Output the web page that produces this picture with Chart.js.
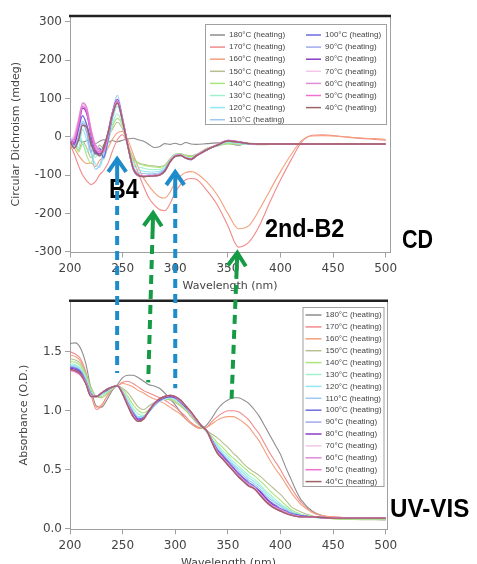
<!DOCTYPE html>
<html>
<head>
  <meta charset="utf-8">
  <title>CD / UV-VIS heating series</title>
  <script src="https://cdn.jsdelivr.net/npm/chart.js@4.4.1/dist/chart.umd.min.js"></script>
  <style>
    html, body { margin: 0; padding: 0; background: #fff; }
    #wrap { position: relative; width: 477px; height: 564px; overflow: hidden; }
    canvas { position: absolute; left: 0; top: 0; }
  </style>
</head>
<body>
<div id="wrap">
  <canvas id="cdChart" width="477" height="564"></canvas>
  <canvas id="uvChart" width="477" height="564"></canvas>
  <canvas id="marks" width="477" height="564"></canvas>
</div>
<script>
var temps = [180, 170, 160, 150, 140, 130, 120, 110, 100, 90, 80, 70, 60, 50, 40];
var colors = ['#8c8c8c', '#f28a8a', '#f5a07c', '#b7bf90', '#a8e67c', '#a0f0cc', '#90e8f2', '#9ec8f0',
              '#6c6ce0', '#a0aaf0', '#8a3cc8', '#f2c6e8', '#e08cd8', '#f070d0', '#9a6464'];
var xTicks = [200, 250, 300, 350, 400, 450, 500];

// ---- CD (mdeg) ----
var cdWl = [200,204,208,212,216,220,224,228,232,236, 240,245,250,255,260,265,270,275,280,285,
            290,295,300,305,310,315,320,330,340,350, 360,370,380,390,400,410,420,430,440,450,
            460,470,480,490,500];
var cd180 = [-12,-20,-8,-14,-10,-6,-18,-12,-8,-15, -10,-13,-9,-6,-4,-8,-12,-20,-28,-26,
             -18,-20,-17,-21,-15,-19,-20,-18,-16,-17, -22,-17,-19,-20,-18,-19,-19,-19,-19,-19, -19,-19,-19,-19,-19];
var cd170 = [-20,-45,-75,-100,-115,-125,-118,-100,-88,-70, -40,-8,5,-23,-60,-95,-130,-160,-178,-190,
             -193,-175,-145,-125,-112,-109,-111,-140,-178,-232, -288,-275,-232,-170,-113,-61,-14,4,5,3, 0,-3,-5,-7,-9];
var cd160 = [-15,-30,-48,-62,-70,-68,-78,-62,-50,-30, -8,10,14,-8,-45,-80,-108,-128,-145,-157,
             -160,-145,-118,-102,-93,-91,-95,-118,-152,-200, -240,-232,-190,-140,-91,-47,-10,2,3,2, 0,-2,-4,-5,-7];
var cd150 = [-5,-22,-35,-12,-30,-55,-42,-22,-30,-5, 18,38,20,-22,-55,-68,-72,-75,-76,-78,
             -74,-58,-45,-44,-48,-50,-46,-30,-24,-19, -19,-20,-21,-20,-20,-19,-19,-19,-19,-19, -19,-19,-19,-19,-19];
var cd140 = [-15,-5,-40,-20,-50,-70,-35,-45,-20,-10, 25,48,28,-20,-58,-70,-74,-77,-79,-80,
             -76,-60,-46,-45,-50,-52,-47,-31,-24,-18, -19,-20,-20,-20,-19,-19,-19,-19,-19,-19, -19,-19,-19,-19,-19];
var cd130 = [-8,-25,10,-15,-40,-20,-55,-30,-60,-20, 30,60,30,-25,-65,-78,-82,-85,-86,-85,
             -80,-62,-47,-46,-52,-55,-48,-32,-24,-15, -18,-19,-20,-19,-19,-19,-19,-19,-19,-19, -19,-19,-19,-19,-19];
var cd120 = [-20,0,-30,20,-10,-45,-70,-80,-50,-15, 40,80,38,-25,-72,-86,-90,-92,-92,-90,
             -83,-63,-48,-47,-54,-57,-48,-33,-22,-13, -16,-19,-19,-19,-19,-19,-19,-19,-19,-19, -19,-19,-19,-19,-19];
var cd110 = [-10,-30,5,40,20,-30,-85,-75,-40,0, 60,108,50,-25,-78,-94,-96,-97,-96,-94,
             -85,-64,-49,-47,-55,-58,-48,-33,-22,-12, -15,-19,-19,-19,-19,-19,-19,-19,-19,-19, -19,-19,-19,-19,-19];
var cd100 = [-5,-15,20,55,30,-10,-45,-30,-55,-10, 50,92,42,-25,-82,-100,-102,-101,-100,-98,
             -88,-64,-50,-48,-55,-58,-49,-34,-22,-11, -14,-18,-19,-19,-19,-19,-19,-19,-19,-19, -19,-19,-19,-19,-19];
var cd90  = [0,-25,-5,35,10,-40,-20,-50,-35,5, 55,88,40,-25,-82,-101,-103,-102,-101,-99,
             -89,-65,-51,-49,-56,-59,-50,-34,-22,-11, -14,-18,-19,-19,-19,-19,-19,-19,-19,-19, -19,-19,-19,-19,-19];
var cd80  = [-8,-20,25,75,60,5,-35,-45,-25,10, 60,97,45,-22,-84,-102,-104,-103,-102,-100,
             -90,-66,-51,-48,-56,-60,-50,-34,-21,-10, -13,-18,-19,-19,-19,-19,-19,-19,-19,-19, -19,-19,-19,-19,-19];
var cd70  = [-15,5,45,85,70,15,-25,-40,-30,5, 55,90,42,-24,-82,-101,-103,-102,-101,-99,
             -89,-65,-50,-48,-55,-58,-49,-33,-21,-11, -14,-18,-19,-19,-19,-19,-19,-19,-19,-19, -19,-19,-19,-19,-19];
var cd60  = [-10,-5,40,88,75,20,-20,-35,-40,0, 58,95,44,-23,-83,-101,-103,-102,-101,-100,
             -90,-66,-50,-48,-56,-59,-50,-34,-21,-10, -13,-18,-19,-19,-19,-19,-19,-19,-19,-19, -19,-19,-19,-19,-19];
var cd50  = [-20,-10,30,80,65,10,-30,-40,-35,5, 55,90,42,-24,-82,-100,-103,-102,-101,-99,
             -89,-65,-50,-48,-55,-58,-49,-33,-21,-11, -14,-18,-19,-19,-19,-19,-19,-19,-19,-19, -19,-19,-19,-19,-19];
var cd40  = [-12,-30,-10,30,25,-20,-40,-50,-30,8, 55,88,40,-25,-82,-101,-104,-103,-102,-100,
             -90,-66,-51,-49,-56,-59,-50,-34,-22,-11, -14,-18,-19,-19,-19,-19,-19,-19,-19,-19, -19,-19,-19,-19,-19];

// ---- UV-VIS absorbance (O.D.) ----
var uvWl = [200,205,210,215,220,225,230,235,240,245, 250,255,260,265,270,275,280,285,290,295,
            300,305,310,315,320,325,330,335,340,345, 350,355,360,365,370,375,380,385,390,395,
            400,405,410,415,420,430,440,450,460,470, 480,490,500];
var uv180 = [1.57,1.575,1.53,1.40,1.18,1.04,1.03,1.09,1.17,1.22, 1.28,1.30,1.30,1.28,1.25,1.22,1.21,1.19,1.15,1.10,
             1.05,0.99,0.93,0.89,0.86,0.85,0.88,0.94,1.01,1.06, 1.09,1.11,1.11,1.09,1.06,1.01,0.95,0.87,0.79,0.71,
             0.63,0.52,0.42,0.32,0.24,0.15,0.11,0.09,0.085,0.08, 0.08,0.078,0.077];
var uv170 = [1.50,1.48,1.44,1.33,1.14,1.01,1.04,1.12,1.18,1.21, 1.24,1.25,1.23,1.20,1.17,1.15,1.13,1.11,1.09,1.06,
             1.03,0.99,0.95,0.90,0.87,0.85,0.86,0.91,0.95,0.98, 1.00,1.00,0.99,0.96,0.92,0.86,0.80,0.72,0.64,0.57,
             0.50,0.42,0.35,0.28,0.22,0.14,0.11,0.10,0.095,0.09, 0.09,0.09,0.09];
var uv160 = [1.47,1.46,1.42,1.31,1.14,1.03,1.05,1.12,1.18,1.21, 1.23,1.22,1.20,1.17,1.15,1.12,1.10,1.08,1.06,1.03,
             1.00,0.97,0.93,0.89,0.86,0.85,0.86,0.89,0.92,0.94, 0.95,0.95,0.93,0.90,0.86,0.80,0.74,0.66,0.58,0.51,
             0.45,0.38,0.31,0.25,0.20,0.14,0.11,0.10,0.095,0.09, 0.09,0.09,0.09];
var uv150 = [1.44,1.43,1.40,1.32,1.20,1.12,1.11,1.14,1.18,1.21, 1.19,1.15,1.09,1.03,1.01,1.04,1.07,1.09,1.10,1.09,
             1.07,1.04,1.00,0.95,0.90,0.86,0.83,0.80,0.77,0.73, 0.69,0.64,0.60,0.55,0.51,0.48,0.45,0.41,0.37,0.33,
             0.29,0.24,0.19,0.16,0.14,0.11,0.09,0.085,0.08,0.078, 0.077,0.076,0.075];
var uv140 = [1.42,1.41,1.38,1.30,1.18,1.12,1.12,1.15,1.19,1.21, 1.18,1.12,1.05,1.00,0.98,1.01,1.05,1.08,1.10,1.10,
             1.08,1.05,1.01,0.96,0.91,0.86,0.82,0.78,0.73,0.69, 0.64,0.60,0.56,0.52,0.48,0.45,0.41,0.37,0.32,0.28,
             0.24,0.20,0.16,0.14,0.12,0.10,0.09,0.085,0.08,0.08, 0.08,0.08,0.08];
var uv130 = [1.40,1.39,1.36,1.28,1.16,1.12,1.13,1.16,1.19,1.21, 1.17,1.10,1.02,0.97,0.96,0.99,1.04,1.08,1.10,1.11,
             1.09,1.06,1.02,0.97,0.92,0.87,0.82,0.76,0.71,0.66, 0.62,0.57,0.53,0.49,0.45,0.42,0.38,0.33,0.29,0.25,
             0.21,0.18,0.15,0.13,0.12,0.10,0.09,0.088,0.086,0.085, 0.085,0.085,0.085];
var uv120 = [1.39,1.38,1.35,1.27,1.15,1.12,1.14,1.17,1.20,1.21, 1.16,1.08,1.00,0.95,0.95,0.99,1.04,1.08,1.10,1.11,
             1.10,1.07,1.02,0.97,0.92,0.87,0.82,0.75,0.70,0.64, 0.60,0.55,0.51,0.47,0.43,0.40,0.36,0.31,0.27,0.23,
             0.20,0.17,0.14,0.12,0.11,0.10,0.09,0.088,0.087,0.086, 0.086,0.086,0.086];
var uv110 = [1.38,1.37,1.34,1.26,1.14,1.12,1.14,1.17,1.20,1.21, 1.15,1.07,0.99,0.94,0.94,0.99,1.04,1.08,1.11,1.12,
             1.10,1.07,1.03,0.98,0.92,0.87,0.82,0.75,0.68,0.63, 0.58,0.54,0.49,0.45,0.41,0.38,0.34,0.29,0.25,0.22,
             0.19,0.16,0.14,0.12,0.11,0.10,0.09,0.088,0.087,0.087, 0.087,0.087,0.087];
var uv100 = [1.37,1.36,1.33,1.25,1.14,1.12,1.15,1.17,1.20,1.21, 1.15,1.06,0.98,0.93,0.94,0.99,1.05,1.09,1.11,1.12,
             1.11,1.07,1.03,0.98,0.92,0.87,0.83,0.75,0.67,0.62, 0.57,0.52,0.47,0.43,0.39,0.36,0.32,0.27,0.23,0.20,
             0.17,0.15,0.13,0.12,0.11,0.10,0.095,0.09,0.09,0.09, 0.09,0.09,0.09];
var uv90  = [1.36,1.35,1.32,1.25,1.13,1.12,1.15,1.18,1.20,1.21, 1.15,1.06,0.97,0.92,0.94,1.00,1.05,1.09,1.11,1.12,
             1.11,1.08,1.03,0.98,0.92,0.87,0.83,0.74,0.66,0.61, 0.56,0.51,0.46,0.42,0.38,0.35,0.31,0.26,0.22,0.19,
             0.16,0.14,0.12,0.11,0.105,0.10,0.095,0.09,0.09,0.09, 0.09,0.09,0.09];
var uv80  = [1.36,1.35,1.32,1.24,1.13,1.12,1.15,1.18,1.20,1.21, 1.15,1.05,0.97,0.92,0.94,1.00,1.06,1.09,1.11,1.12,
             1.11,1.08,1.03,0.98,0.92,0.87,0.83,0.74,0.66,0.61, 0.56,0.51,0.46,0.42,0.37,0.35,0.32,0.27,0.22,0.19,
             0.16,0.14,0.12,0.11,0.105,0.10,0.095,0.09,0.09,0.09, 0.09,0.09,0.09];
var uv70  = [1.35,1.34,1.31,1.24,1.13,1.12,1.15,1.18,1.20,1.21, 1.15,1.05,0.96,0.91,0.93,1.00,1.06,1.10,1.12,1.13,
             1.12,1.08,1.04,0.98,0.92,0.87,0.83,0.74,0.65,0.60, 0.55,0.50,0.45,0.41,0.37,0.35,0.30,0.25,0.21,0.18,
             0.16,0.14,0.12,0.11,0.10,0.10,0.095,0.09,0.09,0.09, 0.09,0.09,0.09];
var uv60  = [1.35,1.34,1.31,1.23,1.12,1.12,1.15,1.18,1.20,1.21, 1.15,1.05,0.96,0.91,0.93,1.00,1.06,1.10,1.12,1.13,
             1.12,1.08,1.04,0.98,0.92,0.87,0.83,0.73,0.65,0.60, 0.55,0.50,0.45,0.41,0.37,0.34,0.30,0.25,0.21,0.18,
             0.16,0.14,0.12,0.11,0.10,0.10,0.095,0.09,0.09,0.09, 0.09,0.09,0.09];
var uv50  = [1.34,1.33,1.30,1.23,1.12,1.12,1.15,1.18,1.20,1.21, 1.14,1.04,0.95,0.91,0.93,1.00,1.06,1.10,1.12,1.13,
             1.12,1.09,1.04,0.99,0.93,0.87,0.83,0.73,0.64,0.59, 0.54,0.49,0.44,0.40,0.36,0.34,0.29,0.24,0.20,0.17,
             0.15,0.13,0.115,0.105,0.10,0.10,0.095,0.09,0.09,0.09, 0.09,0.09,0.09];
var uv40  = [1.35,1.34,1.31,1.23,1.12,1.12,1.15,1.18,1.20,1.21, 1.14,1.04,0.95,0.91,0.93,1.00,1.06,1.10,1.12,1.13,
             1.12,1.09,1.04,0.99,0.93,0.87,0.83,0.73,0.64,0.59, 0.54,0.49,0.44,0.40,0.36,0.34,0.29,0.24,0.20,0.17,
             0.15,0.13,0.115,0.105,0.10,0.10,0.095,0.09,0.09,0.09, 0.09,0.09,0.09];

var cdSeries = [cd180, cd170, cd160, cd150, cd140, cd130, cd120, cd110, cd100, cd90, cd80, cd70, cd60, cd50, cd40];
var uvSeries = [uv180, uv170, uv160, uv150, uv140, uv130, uv120, uv110, uv100, uv90, uv80, uv70, uv60, uv50, uv40];

// arrows: tip on the CD panel (nm, mdeg), tail on the UV panel (nm, O.D.)
var arrowBlue = '#1e8ccb', arrowGreen = '#159a45';
var arrows = [
  {color: arrowBlue,  tipNm: 244.8, tipCd: -58,  endNm: 244.8, endAbs: 1.32},
  {color: arrowBlue,  tipNm: 300,   tipCd: -92,  endNm: 300,   endAbs: 1.19},
  {color: arrowGreen, tipNm: 279,   tipCd: -199, endNm: 274.3, endAbs: 1.24},
  {color: arrowGreen, tipNm: 359,   tipCd: -303, endNm: 353.3, endAbs: 1.05}
];

function makeDatasets(wl, series) {
  return series.map(function(vals, i) {
    return {
      label: temps[i] + '°C (heating)',
      data: vals.map(function(v, j) { return {x: wl[j], y: v}; }),
      borderColor: colors[i],
      borderWidth: i >= 8 ? 1.4 : 1.1,
      order: series.length - i,
      pointRadius: 0,
      cubicInterpolationMode: 'monotone',
      fill: false
    };
  });
}

var boxLegend = {
  id: 'boxLegend',
  afterDraw: function(chart, args, o) {
    var ctx = chart.ctx;
    ctx.save();
    ctx.fillStyle = '#fff';
    ctx.fillRect(o.x, o.y, o.w, o.h);
    ctx.strokeStyle = '#a0a0a0';
    ctx.lineWidth = 1;
    ctx.strokeRect(o.x + 0.5, o.y + 0.5, o.w, o.h);
    ctx.font = '8px "Liberation Sans", Arial, sans-serif';
    ctx.textBaseline = 'middle';
    chart.data.datasets.forEach(function(ds, i) {
      var col = Math.floor(i / o.rows), row = i % o.rows;
      var lx = o.x + o.lineX + col * o.colW;
      var ly = o.y + o.rowY + row * o.rowH;
      ctx.strokeStyle = ds.borderColor;
      ctx.lineWidth = 1.5;
      ctx.beginPath(); ctx.moveTo(lx, ly); ctx.lineTo(lx + o.lineW, ly); ctx.stroke();
      ctx.fillStyle = '#444';
      ctx.fillText(ds.label, lx + o.lineW + 4, ly);
    });
    ctx.restore();
  }
};

var frame = {
  id: 'frame',
  afterDraw: function(chart) {
    var a = chart.chartArea, ctx = chart.ctx;
    ctx.save();
    ctx.strokeStyle = '#a0a0a0'; ctx.lineWidth = 1;
    ctx.beginPath(); ctx.moveTo(a.right + 0.5, a.top); ctx.lineTo(a.right + 0.5, a.bottom); ctx.stroke();
    ctx.strokeStyle = '#222'; ctx.lineWidth = 2.5;
    ctx.beginPath(); ctx.moveTo(a.left - 1, a.top); ctx.lineTo(a.right + 1, a.top); ctx.stroke();
    ctx.restore();
  }
};

function font(size) { return {family: '"DejaVu Sans", sans-serif', size: size}; }
var gridOpts = {drawOnChartArea: false, tickLength: 5, color: '#a0a0a0'};

function xAxis(max, height, titlePad) {
  return {
    type: 'linear', min: 200, max: max,
    ticks: {font: font(12), color: '#444', padding: 4, maxRotation: 0},
    afterBuildTicks: function(s) { s.ticks = xTicks.map(function(v) { return {value: v}; }); },
    grid: gridOpts, border: {color: '#a0a0a0'},
    title: {display: true, text: 'Wavelength (nm)', font: font(11), color: '#444', padding: titlePad},
    afterFit: function(s) { s.height = height; }
  };
}

var cdChart = new Chart(document.getElementById('cdChart'), {
  type: 'line',
  data: {datasets: makeDatasets(cdWl, cdSeries)},
  options: {
    responsive: false, animation: false,
    layout: {padding: {left: 6, top: 16, right: 87, bottom: 271.5}},
    plugins: {
      legend: {display: false}, tooltip: {enabled: false},
      boxLegend: {x: 205, y: 24, w: 181, h: 100, rows: 8, colW: 96, lineX: 5, lineW: 15, rowY: 11, rowH: 12.1}
    },
    scales: {
      x: xAxis(504.1, 40, {top: 0, bottom: 0}),
      y: {
        min: -302, max: 315,
        ticks: {stepSize: 100, includeBounds: false, font: font(12), color: '#444', padding: 3},
        grid: gridOpts, border: {color: '#a0a0a0'},
        title: {display: true, text: 'Circular Dichroism (mdeg)', font: font(11), color: '#444', padding: {top: 4, bottom: 0}},
        afterFit: function(s) { s.width = 64; }
      }
    }
  },
  plugins: [frame, boxLegend]
});

var uvChart = new Chart(document.getElementById('uvChart'), {
  type: 'line',
  data: {datasets: makeDatasets(uvWl, uvSeries)},
  options: {
    responsive: false, animation: false,
    layout: {padding: {left: 14, top: 300.7, right: 90, bottom: 0}},
    plugins: {
      legend: {display: false}, tooltip: {enabled: false},
      boxLegend: {x: 302.5, y: 307, w: 81, h: 179, rows: 15, colW: 0, lineX: 3, lineW: 16, rowY: 8, rowH: 11.9}
    },
    scales: {
      x: xAxis(501.2, 34.7, {top: 0, bottom: -6}),
      y: {
        min: -0.005, max: 1.932,
        ticks: {stepSize: 0.5, includeBounds: false, font: font(12), color: '#444', padding: 3,
                callback: function(v) { return v.toFixed(1); }},
        grid: gridOpts, border: {color: '#a0a0a0'},
        title: {display: true, text: 'Absorbance (O.D.)', font: font(11), color: '#444', padding: {top: 4, bottom: 0}},
        afterFit: function(s) { s.width = 56; }
      }
    }
  },
  plugins: [frame, boxLegend]
});

function label(ctx, text, x, y, size, squeeze) {
  ctx.save();
  ctx.translate(x, y);
  ctx.scale(squeeze, 1);
  ctx.font = 'bold ' + size + 'px "Liberation Sans", Arial, sans-serif';
  ctx.fillStyle = '#000';
  ctx.textBaseline = 'alphabetic';
  ctx.fillText(text, 0, 0);
  ctx.restore();
}

function arrow(ctx, tx, ty, bx, by, color) {
  var dx = tx - bx, dy = ty - by, len = Math.hypot(dx, dy);
  var ux = dx / len, uy = dy / len, px = -uy, py = ux;
  var solid = 26;
  ctx.save();
  ctx.strokeStyle = color;
  ctx.lineWidth = 4;
  ctx.lineCap = 'butt';
  ctx.beginPath();
  ctx.moveTo(tx - ux * 2, ty - uy * 2);
  ctx.lineTo(tx - ux * solid, ty - uy * solid);
  ctx.stroke();
  ctx.setLineDash([9, 6]);
  ctx.beginPath();
  ctx.moveTo(tx - ux * (solid + 6), ty - uy * (solid + 6));
  ctx.lineTo(bx, by);
  ctx.stroke();
  ctx.setLineDash([]);
  ctx.lineJoin = 'miter';
  ctx.beginPath();
  ctx.moveTo(tx - ux * 13 + px * 9, ty - uy * 13 + py * 9);
  ctx.lineTo(tx, ty);
  ctx.lineTo(tx - ux * 13 - px * 9, ty - uy * 13 - py * 9);
  ctx.stroke();
  ctx.restore();
}

(function drawMarks() {
  var ctx = document.getElementById('marks').getContext('2d');
  label(ctx, 'B4', 109, 198, 27, 0.86);
  label(ctx, '2nd-B2', 265, 237, 26, 0.9);
  label(ctx, 'CD', 402, 248, 25, 0.86);
  label(ctx, 'UV-VIS', 390, 517, 26, 0.93);
  var xt = cdChart.scales.x, yt = cdChart.scales.y, xb = uvChart.scales.x, yb = uvChart.scales.y;
  arrows.forEach(function(a) {
    arrow(ctx, xt.getPixelForValue(a.tipNm), yt.getPixelForValue(a.tipCd),
          xb.getPixelForValue(a.endNm), yb.getPixelForValue(a.endAbs), a.color);
  });
})();
</script>
</body>
</html>
